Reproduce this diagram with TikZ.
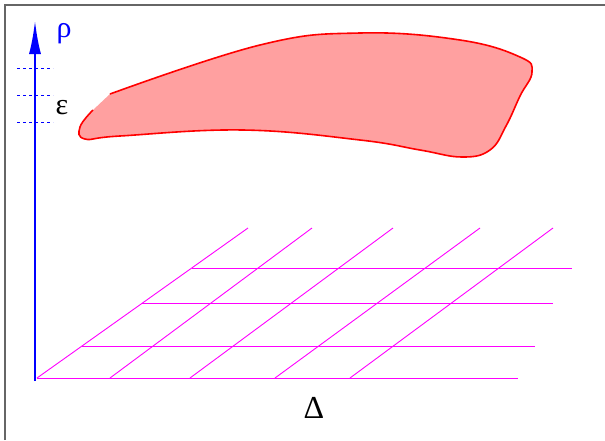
\documentclass[tikz,border=0pt]{standalone}
\usepackage{fontspec}
\setmainfont{Liberation Serif}
\usetikzlibrary{arrows.meta}
\definecolor{blobfill}{HTML}{FFA0A0}
\definecolor{gridmag}{HTML}{FF00FF}
\definecolor{framegray}{HTML}{666666}
\tikzset{
  gridline/.style={gridmag, line width=0.9pt},
  dashline/.style={blue, line width=0.7pt, dash pattern=on 3pt off 3pt},
  blobline/.style={red, line width=1.6pt},
  framestyle/.style={framegray, line width=1.8pt}
}
\begin{document}
\begin{tikzpicture}[x=1pt,y=-1pt]
\useasboundingbox (0,0) rectangle (605,440);
\draw[framestyle] (5,440) -- (5,5) -- (605,5);
% grid
\coordinate (h1a) at (37,378); \coordinate (h1b) at (518,378);
\coordinate (h2a) at (82,346); \coordinate (h2b) at (535,346);
\coordinate (h3a) at (142,303); \coordinate (h3b) at (553,303);
\coordinate (h4a) at (192,268); \coordinate (h4b) at (572,268);
\draw[gridline] (h1a) -- (h1b);
\draw[gridline] (h2a) -- (h2b);
\draw[gridline] (h3a) -- (h3b);
\draw[gridline] (h4a) -- (h4b);
\coordinate (d1a) at (37,378); \coordinate (d1b) at (248,228);
\coordinate (d2a) at (110,378); \coordinate (d2b) at (312,228);
\coordinate (d3a) at (190,378); \coordinate (d3b) at (393,228);
\coordinate (d4a) at (275,378); \coordinate (d4b) at (480,228);
\coordinate (d5a) at (350,378); \coordinate (d5b) at (553,228);
\draw[gridline] (d1a) -- (d1b);
\draw[gridline] (d2a) -- (d2b);
\draw[gridline] (d3a) -- (d3b);
\draw[gridline] (d4a) -- (d4b);
\draw[gridline] (d5a) -- (d5b);
% dashed levels
\coordinate (l1a) at (17,68); \coordinate (l1b) at (53,68);
\coordinate (l2a) at (17,95); \coordinate (l2b) at (53,95);
\coordinate (l3a) at (17,122); \coordinate (l3b) at (53,122);
\draw[dashline] (l1a) -- (l1b);
\draw[dashline] (l2a) -- (l2b);
\draw[dashline] (l3a) -- (l3b);
% axis
\coordinate (ax0) at (35,381);
\coordinate (ax1) at (35,21);
\draw[blue, line width=2pt, -{Latex[length=33pt,width=12pt]}] (ax0) -- (ax1);
\node[blue, font=\fontsize{30}{30}\selectfont] (rho) at (64,34) {ρ};
\node[font=\fontsize{30}{30}\selectfont] (eps) at (62,108) {ε};
\node[font=\fontsize{32}{32}\selectfont] (delta) at (314,408) {Δ};
% blob
\def\blobpts{(110,94) (260,45) (360,33) (460,40) (520,57) (532,72) (520,96) (506,126) (490,150) (462,157) (420,150) (360,140) (243,130) (120,136) (85,139) (80,127) (93,110)}
\fill[blobfill] plot[smooth, tension=0.7] coordinates {\blobpts} -- cycle;
\draw[blobline] plot[smooth, tension=0.7] coordinates {\blobpts};
\end{tikzpicture}
\end{document}
